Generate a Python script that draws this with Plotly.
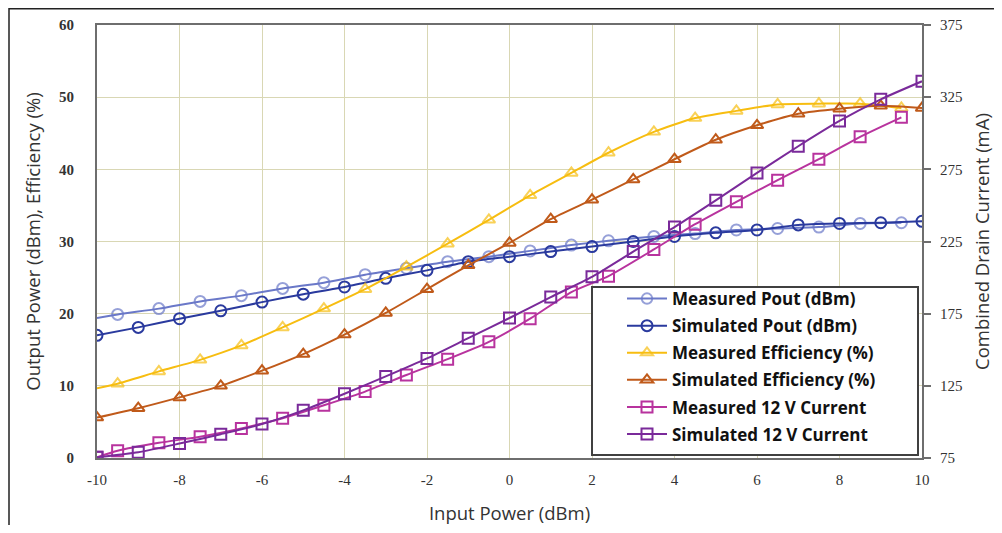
import plotly.graph_objects as go

# ---- data ----
x_meas = [-10, -9.5, -8.5, -7.5, -6.5, -5.5, -4.5, -3.5, -2.5, -1.5, -0.5, 0.5, 1.5, 2.4, 3.5, 4.5, 5.5, 6.5, 7.5, 8.5, 9.5]
x_sim = [-10, -9, -8, -7, -6, -5, -4, -3, -2, -1, 0, 1, 2, 3, 4, 5, 6, 7, 8, 9, 10]

meas_pout = [19.4, 19.9, 20.7, 21.7, 22.5, 23.5, 24.3, 25.4, 26.3, 27.2, 27.9, 28.7, 29.5, 30.1, 30.7, 31.1, 31.6, 31.8, 32.0, 32.5, 32.6]
sim_pout = [17.0, 18.1, 19.3, 20.4, 21.6, 22.7, 23.7, 24.9, 26.0, 27.2, 27.9, 28.6, 29.3, 30.0, 30.7, 31.2, 31.6, 32.3, 32.5, 32.6, 32.8]

meas_eff = [9.65, 10.3, 12.0, 13.6, 15.6, 18.1, 20.7, 23.4, 26.5, 29.7, 33.0, 36.4, 39.5, 42.3, 45.2, 47.1, 48.1, 49.0, 49.1, 49.1, 48.5]
sim_eff = [5.6, 6.9, 8.4, 10.0, 12.1, 14.4, 17.1, 20.1, 23.4, 26.7, 29.8, 33.1, 35.8, 38.6, 41.4, 44.1, 46.1, 47.7, 48.4, 48.8, 48.5]

meas_cur = [75.5, 80, 85.5, 89.8, 95.5, 102.5, 111.5, 121, 132.5, 143.5, 155.5, 171.5, 190, 201, 219.5, 237, 252.5, 267.5, 282, 297.5, 311]
sim_cur = [75.5, 79, 85, 91.5, 98.5, 108, 119.5, 131.5, 144, 158, 172, 186.5, 200.5, 218, 235, 253.5, 272.5, 291, 308.5, 323.5, 336]

names = ["Measured Pout (dBm)", "Simulated Pout (dBm)", "Measured Efficiency (%)",
         "Simulated Efficiency (%)", "Measured 12 V Current", "Simulated 12 V Current"]
colors = ["#6a78c8", "#2a3a9e", "#f7bd10", "#c05a1a", "#b8339e", "#7a2a9a"]

x_ticks = [-10, -8, -6, -4, -2, 0, 2, 4, 6, 8, 10]
left_ticks = [0, 10, 20, 30, 40, 50, 60]
right_ticks = [75, 125, 175, 225, 275, 325, 375]

# ---- figure ----
fig = go.Figure()
MS = 11
meas_sizes = [0] + [MS] * (len(x_meas) - 1)

series = [
    (x_meas, meas_pout, "circle-open", "y", meas_sizes),
    (x_sim, sim_pout, "circle-open", "y", MS),
    (x_meas, meas_eff, "triangle-up-open", "y", meas_sizes),
    (x_sim, sim_eff, "triangle-up-open", "y", MS),
    (x_meas, meas_cur, "square-open", "y2", MS),
    (x_sim, sim_cur, "square-open", "y2", MS),
]
for i, ((xs, ys, sym, yax, sz), name, col) in enumerate(zip(series, names, colors)):
    fig.add_trace(go.Scatter(
        x=xs, y=ys, name=name, yaxis=yax, mode="lines+markers", legendgroup=f"g{i}",
        line=dict(color=col, width=2, shape="spline", smoothing=0.6),
        marker=dict(symbol=sym, size=sz, color=col, line=dict(color=col, width=2)),
    ))

W, H = 986, 517
L, R, T, B = 89, 914, 17, 450
PW, PH = R - L, B - T


def px_x(v):
    return (v - L) / PW


def px_y(v):
    return (B - v) / PH


grid_col = "#d9d7b4"
axis_col = "#6e6e6e"
txt_col = "#333333"
fig.update_layout(
    width=W, height=H,
    margin=dict(l=L, r=W - R, t=T, b=H - B, autoexpand=False),
    paper_bgcolor="white", plot_bgcolor="white",
    showlegend=True,
    legend=dict(
        x=px_x(614), y=px_y(273), xanchor="left", yanchor="top",
        bgcolor="rgba(0,0,0,0)", borderwidth=0,
        font=dict(family="Open Sans", size=17, color="#111", weight="bold"),
        tracegroupgap=2, itemwidth=40,
    ),
    xaxis=dict(
        range=[-10, 10], tickvals=x_ticks, ticktext=[str(t) for t in x_ticks],
        showgrid=True, gridcolor=grid_col, gridwidth=1, automargin=False,
        zeroline=False, showline=True, linecolor=axis_col, linewidth=2, mirror=True,
        ticks="", ticklabelstandoff=7,
        tickfont=dict(family="Liberation Serif", size=15, color=txt_col),
        title=dict(text="Input Power (dBm)", font=dict(family="Open Sans", size=18.5, color=txt_col), standoff=21),
    ),
    yaxis=dict(
        range=[0, 60], tickvals=left_ticks, automargin=False,
        showgrid=True, gridcolor=grid_col, gridwidth=1,
        zeroline=False, showline=True, linecolor=axis_col, linewidth=2,
        ticks="", ticklabelstandoff=18,
        tickfont=dict(family="Liberation Serif", size=15, color=txt_col, weight="bold"),
        title=dict(text="Output Power (dBm), Efficiency (%)", font=dict(family="Open Sans", size=18.5, color=txt_col), standoff=14),
    ),
    yaxis2=dict(
        range=[75, 375], tickvals=right_ticks, overlaying="y", side="right", automargin=False,
        showgrid=False, zeroline=False, showline=True, linecolor=axis_col, linewidth=2,
        ticks="outside", ticklen=7, tickcolor=axis_col, tickwidth=1.5, ticklabelstandoff=6,
        tickfont=dict(family="Liberation Serif", size=15, color=txt_col),
        title=dict(text="Combined Drain Current (mA)", font=dict(family="Open Sans", size=18.5, color=txt_col), standoff=16),
    ),
    shapes=[
        dict(type="rect", xref="paper", yref="paper",
             x0=px_x(1), x1=1.2, y0=-0.3, y1=px_y(0.8),
             line=dict(color="#222", width=1.5), fillcolor="rgba(0,0,0,0)", layer="below"),
        dict(type="rect", xref="paper", yref="paper",
             x0=px_x(584), x1=px_x(910), y0=px_y(447), y1=px_y(279),
             line=dict(color="#404040", width=2), fillcolor="white", layer="above"),
    ],
)

fig.write_html("out.html")
